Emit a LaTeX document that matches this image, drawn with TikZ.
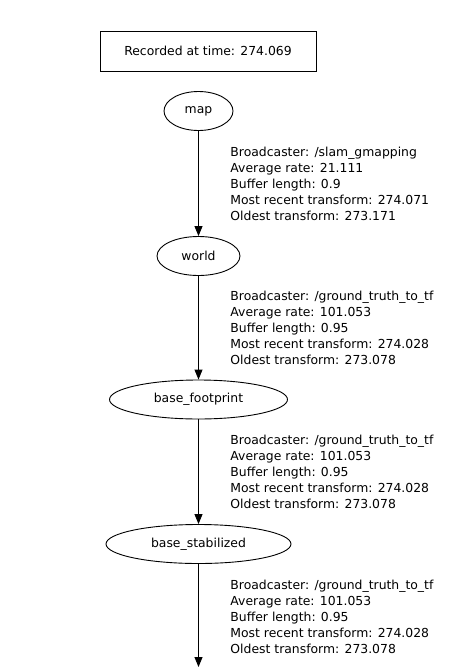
\documentclass[tikz,border=0pt]{standalone}
\usepackage{fontspec}
\setmainfont{DejaVu Sans}
\usetikzlibrary{shapes.geometric,arrows.meta}

\begin{document}
\begin{tikzpicture}[x=1pt, y=-1pt, line width=0.9pt,
    >={Triangle[length=10pt,width=8pt]},
    every node/.style={font=\fontsize{12.4}{15.9}\selectfont},
    frame/.style={ellipse, draw, inner sep=0pt, minimum height=39pt},
    info/.style={anchor=base west, align=left, inner sep=0pt}]
  \useasboundingbox (0,0) rectangle (462,667);

  % Time stamp
  \node[draw, inner sep=0pt, minimum width=216pt, minimum height=40pt] (stamp) at (208,51)
    {Recorded at time: 274.069};

  % Frames
  \node[frame, minimum width=69pt]  (map)   at (198.5,111)   {map};
  \node[frame, minimum width=83pt]  (world) at (198.5,256)   {world};
  \node[frame, minimum width=178pt] (foot)  at (198.5,399.5) {base\_footprint};
  \node[frame, minimum width=185pt] (stab)  at (198.5,544)   {base\_stabilized};
  \coordinate (below) at (198.5,667);

  % Transforms
  \draw[->] (map) -- (world);
  \draw[->] (world) -- (foot);
  \draw[->] (foot) -- (stab);
  \draw[->] (stab) -- (below);

  % Broadcaster info (anchored on the last line)
  \node[info] (slam) at (230,220) {Broadcaster: /slam\_gmapping\\Average rate: 21.111\\Buffer length: 0.9\\Most recent transform: 274.071\\Oldest transform: 273.171};
  \foreach \name/\y in {truthA/364.5, truthB/508.5, truthC/653.5}{
    \node[info] (\name) at (230,\y) {Broadcaster: /ground\_truth\_to\_tf\\Average rate: 101.053\\Buffer length: 0.95\\Most recent transform: 274.028\\Oldest transform: 273.078};
  }
\end{tikzpicture}
\end{document}
